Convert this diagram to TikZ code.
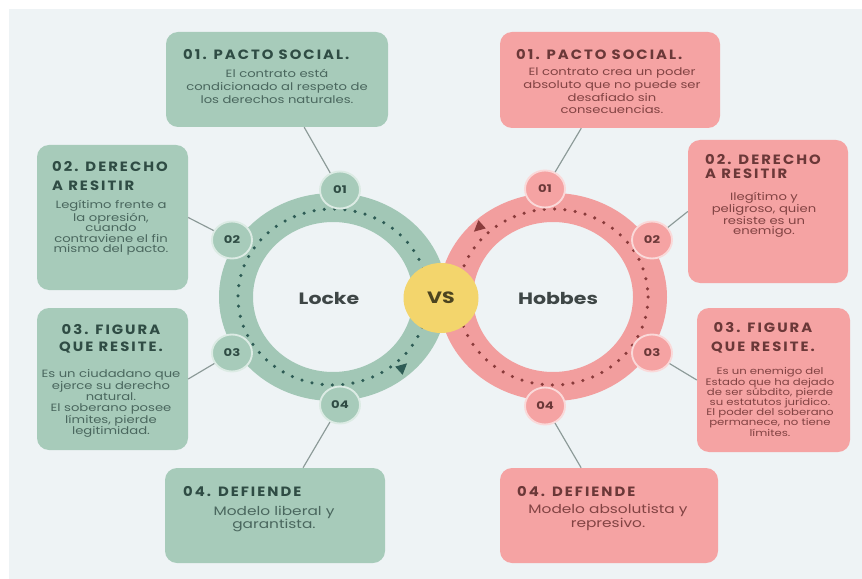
\documentclass[tikz,border=0pt]{standalone}
\usepackage{fontspec}
\setmainfont{Poppins}[FakeStretch=1.25]
\newfontfamily\headfont{Poppins}[FakeStretch=1.1, LetterSpace=15]
\usetikzlibrary{shapes.geometric}

\definecolor{bgblue}{HTML}{EEF3F5}
\definecolor{sage}{HTML}{A7CBBA}
\definecolor{sagering}{HTML}{A2C7B6}
\definecolor{sageedge}{HTML}{DCEBE4}
\definecolor{sagedark}{HTML}{2F4C44}
\definecolor{sagetext}{HTML}{4A675E}
\definecolor{sagedot}{HTML}{2E5C55}
\definecolor{rose}{HTML}{F5A3A3}
\definecolor{rosering}{HTML}{F29E9E}
\definecolor{roseedge}{HTML}{FAD9D9}
\definecolor{rosedark}{HTML}{6B3838}
\definecolor{rosetext}{HTML}{824343}
\definecolor{rosedot}{HTML}{8A3B3B}
\definecolor{vsyellow}{HTML}{F3D56C}
\definecolor{vstext}{HTML}{4C4420}
\definecolor{namegray}{HTML}{3E4646}
\definecolor{linkgray}{HTML}{8C9A98}

\tikzset{
    greenbox/.style={fill=sage, rounded corners=3.6mm, inner sep=0pt},
    pinkbox/.style={fill=rose, rounded corners=3.6mm, inner sep=0pt},
    greenhead/.style={text=sagedark, inner sep=0pt, align=left, font=\headfont\bfseries\fontsize{11.5}{#1}\selectfont},
    greenhead/.default=15,
    pinkhead/.style={greenhead=#1, text=rosedark},
    pinkhead/.default=15,
    greentext/.style={text=sagetext, inner sep=0pt, align=center, font=\fontsize{9}{#1}\selectfont},
    greentext/.default=10,
    pinktext/.style={greentext=#1, text=rosetext},
    pinktext/.default=10,
    greendot/.style={ellipse, fill=sage, draw=sageedge, line width=1.6pt, minimum width=12mm, minimum height=11.1mm, inner sep=0pt, text=sagedark, font=\bfseries\fontsize{9}{10}\selectfont},
    pinkdot/.style={greendot, fill=rose, draw=roseedge, text=rosedark},
    link/.style={draw=linkgray, line width=1pt},
    dots/.style={line width=3pt, line cap=round, dash pattern=on 0pt off 8.8pt}
}

\begin{document}
\begin{tikzpicture}[x=0.3mm, y=-0.3mm]
    \useasboundingbox (0,0) rectangle (862,579);
    \fill[white] (0,0) rectangle (862,579);
    \fill[bgblue] (9,9) rectangle (862,579);

    % Left: Locke
    \node[greenbox, minimum width=66.6mm, minimum height=28.5mm] (l1box) at (277,79.5) {};
    \node[greenhead, anchor=west] (l1head) at (183,55) {01. PACTO SOCIAL.};
    \node[greentext=11] (l1text) at (277,86.5) {El contrato está\\condicionado al respeto de\\los derechos naturales.};

    \node[greenbox, minimum width=45.3mm, minimum height=43.5mm] (l2box) at (112.5,217.5) {};
    \node[greenhead=15.5, anchor=west] (l2head) at (52,176) {02. DERECHO\\A RESITIR};
    \node[greentext=9] (l2text) at (111,228) {Legítimo frente a\\la opresión,\\cuando\\contraviene el fin\\mismo del pacto.};

    \node[greenbox, minimum width=45.3mm, minimum height=42.6mm] (l3box) at (112.5,379) {};
    \node[greenhead=14.5, align=center] (l3head) at (111,338.5) {03. FIGURA\\QUE RESITE.};
    \node[greentext=9.7] (l3text) at (111,403.5) {Es un ciudadano que\\ejerce su derecho\\natural.\\El soberano posee\\límites, pierde\\legitimidad.};

    \node[greenbox, minimum width=66mm, minimum height=28.5mm] (l4box) at (275,515.5) {};
    \node[greenhead, anchor=west] (l4head) at (183,492) {04. DEFIENDE};
    \node[greentext, font=\fontsize{10.5}{10.6}\selectfont] (l4text) at (274,519) {Modelo liberal y\\garantista.};

    % Right: Hobbes
    \node[pinkbox, minimum width=66mm, minimum height=28.8mm] (r1box) at (610,80) {};
    \node[pinkhead, anchor=west] (r1head) at (516,55) {01. PACTO SOCIAL.};
    \node[pinktext=10.8] (r1text) at (612,91) {El contrato crea un poder\\absoluto que no puede ser\\desafiado sin\\consecuencias.};

    \node[pinkbox, minimum width=48mm, minimum height=42.9mm] (r2box) at (768,211.5) {};
    \node[pinkhead=12, anchor=west] (r2head) at (705,166.5) {02. DERECHO\\A RESITIR};
    \node[pinktext=8.8] (r2text) at (764,214.5) {Ilegítimo y\\peligroso, quien\\resiste es un\\enemigo.};

    \node[pinkbox, minimum width=45.9mm, minimum height=43.2mm] (r3box) at (773.5,380) {};
    \node[pinkhead=16, align=center] (r3head) at (763,337.5) {03. FIGURA\\QUE RESITE.};
    \node[pinktext, font=\fontsize{8}{8.7}\selectfont] (r3text) at (770,402) {Es un enemigo del\\Estado que ha dejado\\de ser súbdito, pierde\\su estatutos jurídico.\\El poder del soberano\\permanece, no tiene\\límites.};

    \node[pinkbox, minimum width=65.4mm, minimum height=28.5mm] (r4box) at (609,515.5) {};
    \node[pinkhead, anchor=west] (r4head) at (517,492) {04. DEFIENDE};
    \node[pinktext, font=\fontsize{10.5}{10}\selectfont] (r4text) at (608,517.5) {Modelo absolutista y\\represivo.};

    % Rings
    \fill[sagering, even odd rule] (333,297) ellipse [x radius=114, y radius=104]
        (333,297) ellipse [x radius=80, y radius=75];
    \fill[rosering, even odd rule] (553,297) ellipse [x radius=114, y radius=104]
        (553,297) ellipse [x radius=80, y radius=75];
    \draw[dots, sagedot] (333,297) ellipse [x radius=95, y radius=88];
    \draw[dots, rosedot] (553,297) ellipse [x radius=95, y radius=88];
    \fill[sagedot] (407.1,363.3) -- (402.6,374.8) -- (395.2,366.6) -- cycle;
    \fill[rosedot] (473.9,231.7) -- (485.8,228.4) -- (478.4,220.2) -- cycle;

    \node[greendot] (l1) at (340,190) {01};
    \node[greendot] (l2) at (232,240) {02};
    \node[greendot] (l3) at (232,353) {03};
    \node[greendot] (l4) at (340,405) {04};
    \node[pinkdot] (r1) at (545,189) {01};
    \node[pinkdot] (r2) at (652,240) {02};
    \node[pinkdot] (r3) at (652,353) {03};
    \node[pinkdot] (r4) at (545,406) {04};

    \node[text=namegray, font=\bfseries\fontsize{14}{16}\selectfont] (locke) at (329,298) {Locke};
    \node[text=namegray, font=\bfseries\fontsize{14}{16}\selectfont] (hobbes) at (558,298) {Hobbes};
    \node[ellipse, fill=vsyellow, minimum width=22.5mm, minimum height=21mm, text=vstext,
        font=\bfseries\fontsize{14}{16}\selectfont] (vs) at (441,298) {VS};

    % Connectors
    \draw[link] (l1) -- (l1box);
    \draw[link] (l2) -- (l2box.east);
    \draw[link] (l3) -- (l3box.east);
    \draw[link] (l4) -- (l4box);
    \draw[link] (r1) -- (r1box);
    \draw[link] (r2) -- (r2box.west);
    \draw[link] (r3) -- (r3box.west);
    \draw[link] (r4) -- (r4box);
\end{tikzpicture}
\end{document}
